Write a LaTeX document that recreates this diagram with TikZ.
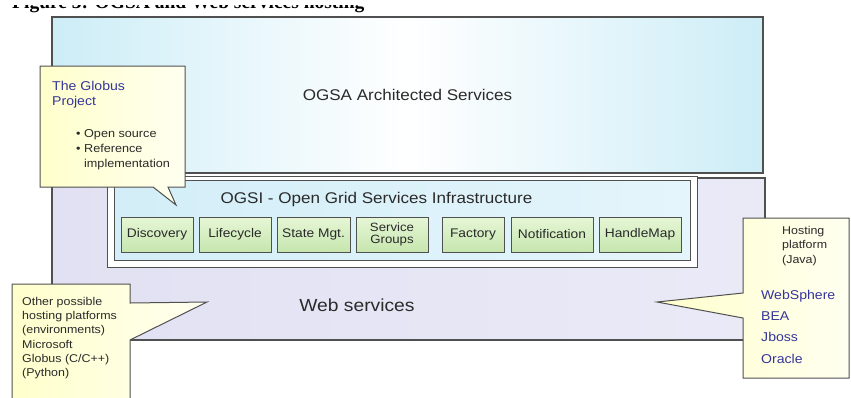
\documentclass[tikz,border=0pt]{standalone}
\usepackage{fontspec}
\setmainfont{Liberation Sans}[FakeStretch=1.1]
\newfontfamily\capfont{Liberation Serif}
\newcommand\fsz[2]{\fontsize{#1}{#2}\selectfont}
\definecolor{oblue}{HTML}{CDEDF7}
\definecolor{iblue}{HTML}{D3EEF8}
\definecolor{lav}{HTML}{E1E1F3}
\definecolor{lavw}{HTML}{EAEAF7}
\definecolor{cyel}{HTML}{FFFFCC}
\definecolor{cwht}{HTML}{FFFFF0}
\definecolor{gdark}{HTML}{C6E6AE}
\definecolor{glight}{HTML}{E6F6D6}
\definecolor{edge}{HTML}{505050}
\definecolor{txt}{HTML}{2A2A2A}
\definecolor{btxt}{HTML}{35359A}
\tikzset{
  panel/.style={draw=edge, line width=1.2pt, rectangle, inner sep=0pt},
  greenbox/.style={draw=edge, line width=1pt, rectangle, inner sep=0pt,
    minimum height=35, top color=glight, bottom color=gdark, text=txt,
    font=\fsz{12.5}{12}, align=center},
  callout/.style={draw=edge, line width=1pt, left color=cyel, right color=cwht},
  lbl/.style={text=txt, inner sep=0pt},
}
\begin{document}
\begin{tikzpicture}[x=1pt,y=-1pt]
\useasboundingbox (0,0) rectangle (851,397);
\node[anchor=base west, inner sep=0pt, font=\capfont\bfseries\fsz{19.5}{20}] (cap) at (12,8.5) {Figure 3: OGSA and Web services hosting};
\fill[white] (0,-20) rectangle (851,4.5);

% OGSA architected services
\node[panel, minimum width=711, minimum height=156, left color=oblue, right color=oblue, middle color=white,
      font=\fsz{15.5}{16}, text=txt] (ogsa) at (407.5,95) {OGSA Architected Services};

% Web services layer
\node[panel, minimum width=713, minimum height=162, left color=lav, right color=lavw] (web) at (408.5,259) {};
\node[lbl, font=\fsz{17.5}{18}] (webt) at (357,305) {Web services};

% OGSI frame
\node[panel, line width=1pt, fill=white, minimum width=590, minimum height=91] (frame) at (402,221.5) {};
\node[panel, line width=1pt, minimum width=576, minimum height=80, left color=iblue, right color=iblue!60!white] (ogsi) at (402,220) {};
\node[lbl, font=\fsz{15.5}{16}] (ogsit) at (376.5,199.5) {OGSI - Open Grid Services Infrastructure};

\node[greenbox, minimum width=72] (disc) at (157,234.5) {Discovery};
\node[greenbox, minimum width=72] (life) at (235,234.5) {Lifecycle};
\node[greenbox, minimum width=73] (state) at (313.5,234.5) {State Mgt.};
\node[greenbox, minimum width=72, font=\fsz{12}{12}] (sgrp) at (392,234.5) {Service\\Groups};
\node[greenbox, minimum width=62] (fact) at (473,234.5) {Factory};
\node[greenbox, minimum width=82] (notif) at (552,234.5) {Notification};
\node[greenbox, minimum width=82] (hmap) at (640,234.5) {HandleMap};

% Globus callout
\path[callout] (40,66) -- (185,66) -- (185,187) -- (168,187) -- (176,205) -- (153,187) -- (40,187) -- cycle;
\node[lbl, anchor=base west, text=btxt, align=left, font=\fsz{12.8}{15}] (globus) at (52,105) {The Globus\\Project};
\node[lbl, anchor=base west, align=left, font=\fsz{11.5}{15}] (bul) at (76,167)
  {\textbullet\ Open source\\\textbullet\ Reference\\\phantom{\textbullet\ }implementation};

% Other platforms callout
\path[callout] (12,284) -- (130,284) -- (130,303) -- (207,302) -- (130,340) -- (130,402) -- (12,402) -- cycle;
\node[lbl, anchor=base west, align=left, font=\fsz{11.3}{14.3}] (other) at (22,333.6)
  {Other possible\\hosting platforms\\(environments)};
\node[lbl, anchor=base west, align=left, font=\fsz{11.3}{14}] (otherl) at (22,376)
  {Microsoft\\Globus (C/C++)\\(Python)};

% Java hosting callout
\path[callout] (743,218) -- (849,218) -- (849,378) -- (743,378) -- (743,318) -- (657,302) -- (743,293) -- cycle;
\node[lbl, anchor=base west, align=left, font=\fsz{11.3}{14.5}] (java) at (782,263)
  {Hosting\\platform\\(Java)};
\node[lbl, anchor=base west, align=left, text=btxt, font=\fsz{12.8}{21.3}] (jlist) at (761,363)
  {WebSphere\\BEA\\Jboss\\Oracle};
\end{tikzpicture}
\end{document}
